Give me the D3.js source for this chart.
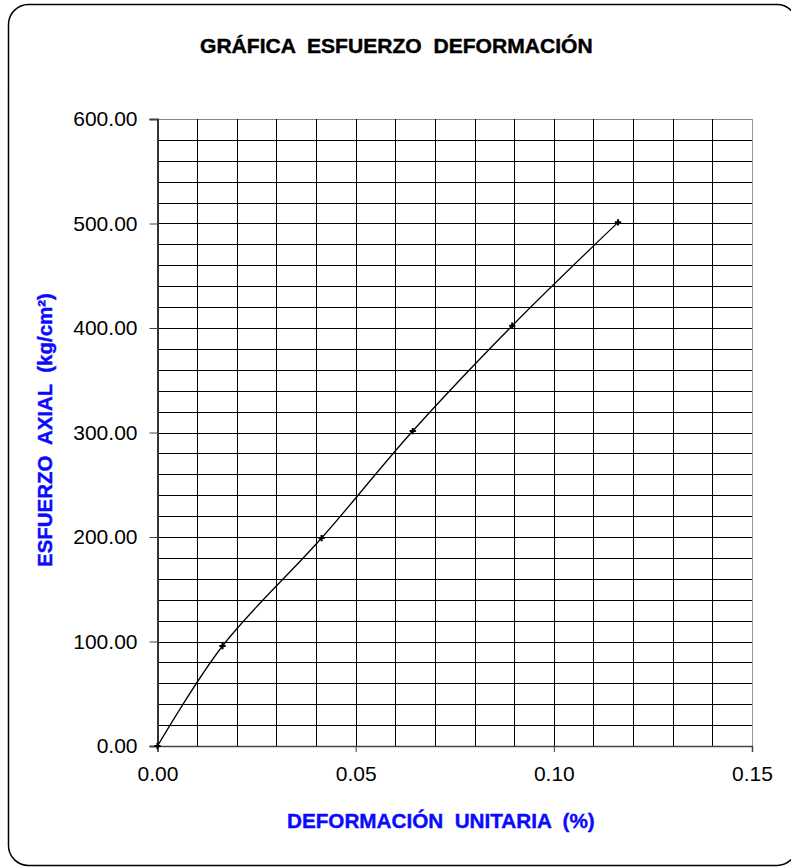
<!DOCTYPE html>
<html><head><meta charset="utf-8">
<script src="https://cdn.jsdelivr.net/npm/d3@7"></script>
<style>body{margin:0;background:#fff}svg{display:block}</style>
</head><body>
<svg id="c" width="791" height="867"></svg>
<script>
const strain = [0, 0.0164, 0.0414, 0.0644, 0.0895, 0.1162];
const stress = [0, 95.7, 199, 301.4, 402.2, 501.1];
const xTicks = [0, 0.05, 0.10, 0.15];
const yTicks = [0, 100, 200, 300, 400, 500, 600];
const title = "GRÁFICA  ESFUERZO  DEFORMACIÓN";
const xLabel = "DEFORMACIÓN  UNITARIA  (%)";
const yLabel = "ESFUERZO  AXIAL  (kg/cm²)";

const svg = d3.select("#c");
const L = 157.5, R = 752, T = 119, B = 746;
const x = d3.scaleLinear().domain([0, 0.15]).range([L, R]);
const y = d3.scaleLinear().domain([0, 600]).range([B, T]);
const font = "Liberation Sans, Arial, sans-serif";

svg.append("rect").attr("x", 8.5).attr("y", 4.5).attr("width", 788.5).attr("height", 861)
  .attr("rx", 20).attr("fill", "#fff").attr("stroke", "#000").attr("stroke-width", 1.5);

const g = svg.append("g");
d3.range(0, 600.01, 20).forEach(v => {
  g.append("line").attr("x1", L).attr("x2", R).attr("y1", Math.round(y(v))+0.5).attr("y2", Math.round(y(v))+0.5)
    .attr("stroke", v === 600 ? "#888" : "#000").attr("stroke-width", 1);
});
d3.range(0, 0.1501, 0.01).forEach(v => {
  g.append("line").attr("y1", T).attr("y2", B).attr("x1", Math.round(x(v))+0.5).attr("x2", Math.round(x(v))+0.5)
    .attr("stroke", v >= 0.1499 ? "#999" : "#000").attr("stroke-width", 1);
});

const yAxis = d3.axisLeft(y).tickValues(yTicks).tickFormat(d3.format(".2f")).tickSize(8).tickPadding(12);
const ya = svg.append("g").attr("transform", `translate(${L},0)`).call(yAxis);
ya.select(".domain").attr("stroke", "#333").attr("stroke-width", 2);
ya.selectAll(".tick line").attr("stroke", "#444");
ya.selectAll("text").attr("font-family", font).attr("font-size", 21).attr("fill", "#000");

const xAxis = d3.axisBottom(x).tickValues(xTicks).tickFormat(d3.format(".2f")).tickSize(6).tickPadding(14);
const xa = svg.append("g").attr("transform", `translate(0,${B})`).call(xAxis);
xa.select(".domain").attr("stroke", "#444").attr("stroke-width", 1.5);
xa.selectAll(".tick line").attr("stroke", "#444");
xa.selectAll("text").attr("font-family", font).attr("font-size", 21).attr("fill", "#000");

const pts = strain.map((s, i) => [s, stress[i]]);
svg.append("path").datum(pts)
  .attr("d", d3.line().x(d => x(d[0])).y(d => y(d[1])).curve(d3.curveCatmullRom.alpha(0.5)))
  .attr("fill", "none").attr("stroke", "#000").attr("stroke-width", 1.3);
svg.append("g").selectAll("path").data(pts).join("path")
  .attr("transform", d => `translate(${x(d[0])},${y(d[1])})`)
  .attr("d", d3.symbol(d3.symbolCross, 22))
  .attr("fill", "#000");

function stretched(txt, size, color, width, tf) {
  const gg = svg.append("g").attr("transform", tf);
  const t = gg.append("text").attr("x", 0).attr("y", 0)
    .attr("font-family", font).attr("font-weight", "bold").attr("font-size", size)
    .attr("fill", color).attr("stroke", color).attr("stroke-width", 0.4)
    .style("white-space", "pre").text(txt);
  const w = t.node().getComputedTextLength();
  t.attr("transform", `scale(${width / w},1)`);
}
stretched(title, 19.5, "#000", 393, "translate(200,52.5)");
stretched(xLabel, 21, "#0a0aff", 308, "translate(287,828)");
stretched(yLabel, 20, "#0a0aff", 274, "translate(52,567) rotate(-90)");
</script>
</body></html>
